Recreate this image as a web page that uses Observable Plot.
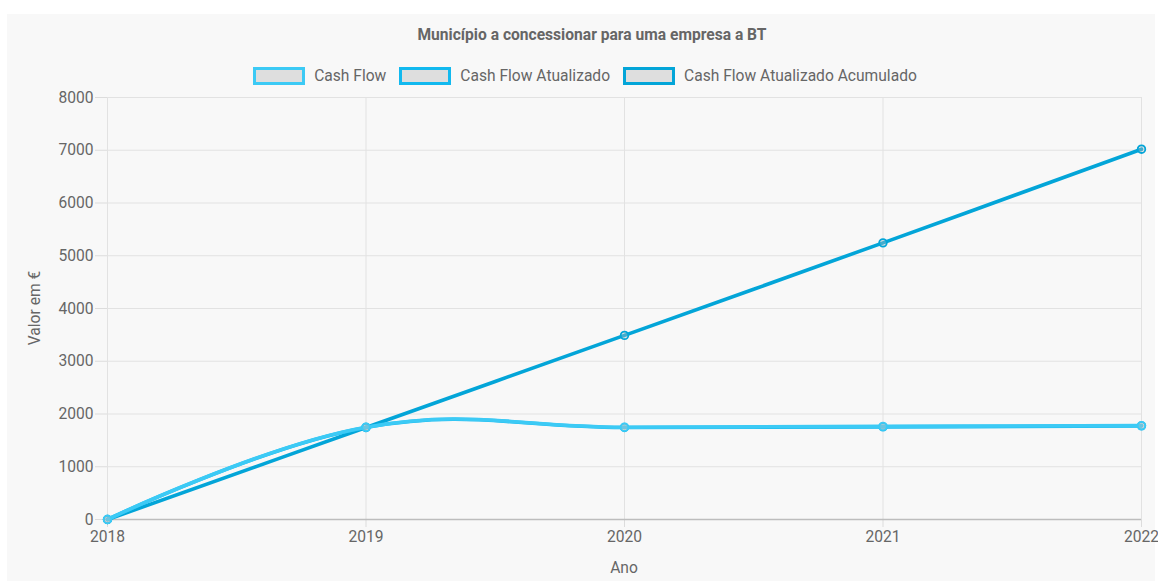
<!DOCTYPE html>
<html>
<head>
<meta charset="utf-8">
<script src="https://cdn.jsdelivr.net/npm/d3@7"></script>
<script src="https://cdn.jsdelivr.net/npm/@observablehq/plot@0.6"></script>
<style>
  html, body { margin: 0; padding: 0; background: #ffffff; overflow: hidden; width: 1158px; height: 581px; }
  #panel { position: absolute; left: 7px; top: 14px; width: 1148px; height: 567px; background: #f8f8f8; }
  .txt { font-family: Roboto, "Noto Sans", sans-serif; color: #666; font-size: 15.6px; }
  #title { position: absolute; left: 26px; width: 1132px; top: 25px; text-align: center; font-weight: bold; line-height: 20px; }
  #legend { position: absolute; left: 12px; width: 1146px; top: 66px; display: flex; justify-content: center; align-items: center; line-height: 20px; }
  .item { display: flex; align-items: center; margin: 0 6.5px; }
  .box { width: 46px; height: 12px; background: #dedede; border-style: solid; border-width: 3px; margin-right: 9px; }
  #xlabel { position: absolute; left: 0; width: 1248px; top: 558px; text-align: center; line-height: 20px; }
  #ylabel { position: absolute; left: 35px; top: 308px; transform: translate(-50%, -50%) rotate(-90deg); white-space: nowrap; line-height: 20px; }
  #chart { position: absolute; left: 0; top: 85px; }
  #chart svg [aria-label="y-axis tick"], #chart svg [aria-label="x-axis tick"] { stroke: #dcdcdc; }
  #chart svg g.tick line { stroke: #dcdcdc; }
  #chart svg .domain { display: none; }
</style>
</head>
<body>
<div id="panel"></div>
<div id="title" class="txt">Município a concessionar para uma empresa a BT</div>
<div id="legend" class="txt"></div>
<div id="chart"></div>
<div id="xlabel" class="txt">Ano</div>
<div id="ylabel" class="txt">Valor em €</div>
<script>
// ---- data ----
const years = [2018, 2019, 2020, 2021, 2022];
const cashFlow = [0, 1750, 1750, 1765, 1780];
const cashFlowAtualizado = [0, 1745, 1745, 1755, 1775];
const cashFlowAtualizadoAcumulado = [0, 1745, 3490, 5245, 7020];
const yTicks = [0, 1000, 2000, 3000, 4000, 5000, 6000, 7000, 8000];
const seriesNames = ["Cash Flow", "Cash Flow Atualizado", "Cash Flow Atualizado Acumulado"];
const seriesColors = ["#3ccaf5", "#12b9ef", "#03a5d8"];
const seriesValues = [cashFlow, cashFlowAtualizado, cashFlowAtualizadoAcumulado];

// ---- legend ----
const legend = document.getElementById("legend");
seriesNames.forEach((name, i) => {
  const item = document.createElement("div");
  item.className = "item";
  const box = document.createElement("span");
  box.className = "box";
  box.style.borderColor = seriesColors[i];
  const label = document.createElement("span");
  label.textContent = name;
  item.appendChild(box);
  item.appendChild(label);
  legend.appendChild(item);
});

// ---- table ----
const rows = [];
seriesNames.forEach((name, i) => {
  years.forEach((yr, j) => rows.push({series: name, year: yr, value: seriesValues[i][j], order: i}));
});

const marks = [
  Plot.ruleY(yTicks.filter(d => d !== 0), {stroke: "#e2e2e2", strokeWidth: 1}),
  Plot.ruleX(years, {stroke: "#e2e2e2", strokeWidth: 1}),
  Plot.ruleY([0], {stroke: "#bdbdbd", strokeWidth: 1.3})
];
// draw last dataset first so the first one is on top (as Chart.js does)
for (let i = seriesNames.length - 1; i >= 0; i--) {
  const data = rows.filter(r => r.order === i);
  marks.push(Plot.line(data, {x: "year", y: "value", stroke: seriesColors[i], strokeWidth: 3.6, curve: "cardinal", tension: -0.2}));
  marks.push(Plot.dot(data, {x: "year", y: "value", r: 3.8, fill: "rgba(190,190,190,0.35)", stroke: seriesColors[i], strokeWidth: 1.8}));
}

const chart = Plot.plot({
  width: 1158,
  height: 496,
  marginLeft: 107,
  marginRight: 17,
  marginTop: 12,
  marginBottom: 62,
  style: {background: "transparent", color: "#666", fontSize: "15.6px", fontFamily: "Roboto, 'Noto Sans', sans-serif", overflow: "visible"},
  x: {domain: [2018, 2022], ticks: years, tickFormat: d => String(d), tickSize: 8, tickPadding: 3, label: null},
  y: {domain: [0, 8000], ticks: yTicks, tickFormat: d => String(d), tickSize: 12, tickPadding: 2, label: null},
  marks
});
document.getElementById("chart").appendChild(chart);
</script>
</body>
</html>
